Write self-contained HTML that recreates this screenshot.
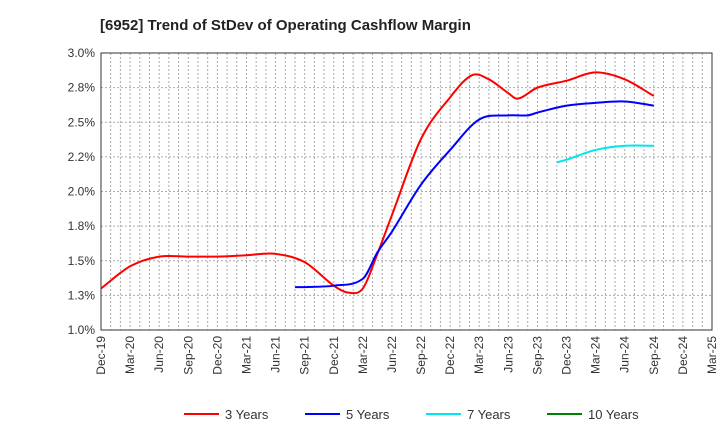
<!DOCTYPE html>
<html><head><meta charset="utf-8"><style>
body{margin:0;background:#fff;font-family:"Liberation Sans",Arial,sans-serif}
</style></head><body>
<svg width="720" height="440" viewBox="0 0 720 440" xmlns="http://www.w3.org/2000/svg">
<text x="100" y="30" font-size="15" font-weight="bold" fill="#222">[6952]  Trend of StDev of Operating Cashflow Margin</text>
<g id="grid"></g>
<g id="axes"></g>
<g id="series"></g>
<g id="legend"></g>
</svg>
<script>
const xLabels=["Dec-19","Mar-20","Jun-20","Sep-20","Dec-20","Mar-21","Jun-21","Sep-21","Dec-21","Mar-22","Jun-22","Sep-22","Dec-22","Mar-23","Jun-23","Sep-23","Dec-23","Mar-24","Jun-24","Sep-24","Dec-24","Mar-25"];
const yTicks=[1.0,1.25,1.5,1.75,2.0,2.25,2.5,2.75,3.0];
const yTickLabels=["1.0%","1.3%","1.5%","1.8%","2.0%","2.2%","2.5%","2.8%","3.0%"];
const s3x=[0,1,2,3,4,5,6,7,8,8.5,9,9.5,10,11,12,12.75,13.33,14,14.33,15,16,17,18,19];
const s3y=[1.30,1.46,1.53,1.53,1.53,1.54,1.55,1.49,1.32,1.27,1.30,1.55,1.83,2.38,2.68,2.84,2.81,2.71,2.67,2.75,2.80,2.86,2.81,2.69];
const s5x=[6.67,7,8,9,9.5,10,11,12,13,14,14.67,15,16,17,18,19];
const s5y=[1.31,1.31,1.32,1.37,1.56,1.71,2.05,2.30,2.52,2.55,2.55,2.57,2.62,2.64,2.65,2.62];
const s7x=[15.67,16,17,18,19];
const s7y=[2.21,2.23,2.30,2.33,2.33];
const seriesNames=["3 Years","5 Years","7 Years","10 Years"];
const seriesColors=["#ff0000","#0000ff","#00e5ee","#008000"];
const NS="http://www.w3.org/2000/svg";
const L=101,R=712,T=53,B=330;
const X=i=>L+i*(R-L)/21;
const Y=v=>B-(v-1)/2*(B-T);
function mk(tag,attrs,parent){const e=document.createElementNS(NS,tag);for(const k in attrs)e.setAttribute(k,attrs[k]);parent.appendChild(e);return e;}
const grid=document.getElementById('grid'),axes=document.getElementById('axes'),ser=document.getElementById('series'),leg=document.getElementById('legend');
for(let m=1;m<63;m++){const l=mk('line',{x1:X(m/3),x2:X(m/3),y1:T,y2:B,stroke:'#aaa','stroke-dasharray':'2,2','stroke-width':1},grid);

}
yTicks.forEach((v,i)=>{if(i>0&&i<yTicks.length-1){const l=mk('line',{x1:L,x2:R,y1:Y(v),y2:Y(v),stroke:'#aaa','stroke-dasharray':'2,2'},grid);

}
const t=mk('text',{x:L-6,y:Y(v)+4,'text-anchor':'end','font-size':12,fill:'#333'},axes);t.textContent=yTickLabels[i];

});
const fr=mk('rect',{x:L,y:T,width:R-L,height:B-T,fill:'none',stroke:'#333','stroke-width':1},axes);


xLabels.forEach((s,i)=>{const x=X(i);const t=mk('text',{x:x+4,y:B+6,'text-anchor':'end','font-size':12,fill:'#333',transform:`rotate(-90 ${x+4} ${B+6})`},axes);t.textContent=s;

});
function path(xs,ys){const p=xs.map((x,i)=>[X(x),Y(ys[i])]);const n=p.length;
const m=p.map((q,i)=>{const a=p[Math.max(0,i-1)],b=p[Math.min(n-1,i+1)];return (b[1]-a[1])/(b[0]-a[0]);});
let d=`M${p[0][0]},${p[0][1]}`;
for(let i=0;i<n-1;i++){const dx=(p[i+1][0]-p[i][0])/3;
d+=` C${p[i][0]+dx},${p[i][1]+m[i]*dx} ${p[i+1][0]-dx},${p[i+1][1]-m[i+1]*dx} ${p[i+1][0]},${p[i+1][1]}`;}return d;}
[[s3x,s3y,0],[s5x,s5y,1],[s7x,s7y,2]].forEach(([xs,ys,k])=>{const p=mk('path',{d:path(xs,ys),fill:'none',stroke:seriesColors[k],'stroke-width':2,'stroke-linejoin':'round'},ser);

});
const lx=[184,305,426,547];
seriesNames.forEach((n,i)=>{const g=mk('g',{},leg);


mk('line',{x1:lx[i],x2:lx[i]+35,y1:414,y2:414,stroke:seriesColors[i],'stroke-width':2},g);
const t=mk('text',{x:lx[i]+41,y:419,'font-size':13,fill:'#333'},g);t.textContent=n;});
</script>
</body></html>
